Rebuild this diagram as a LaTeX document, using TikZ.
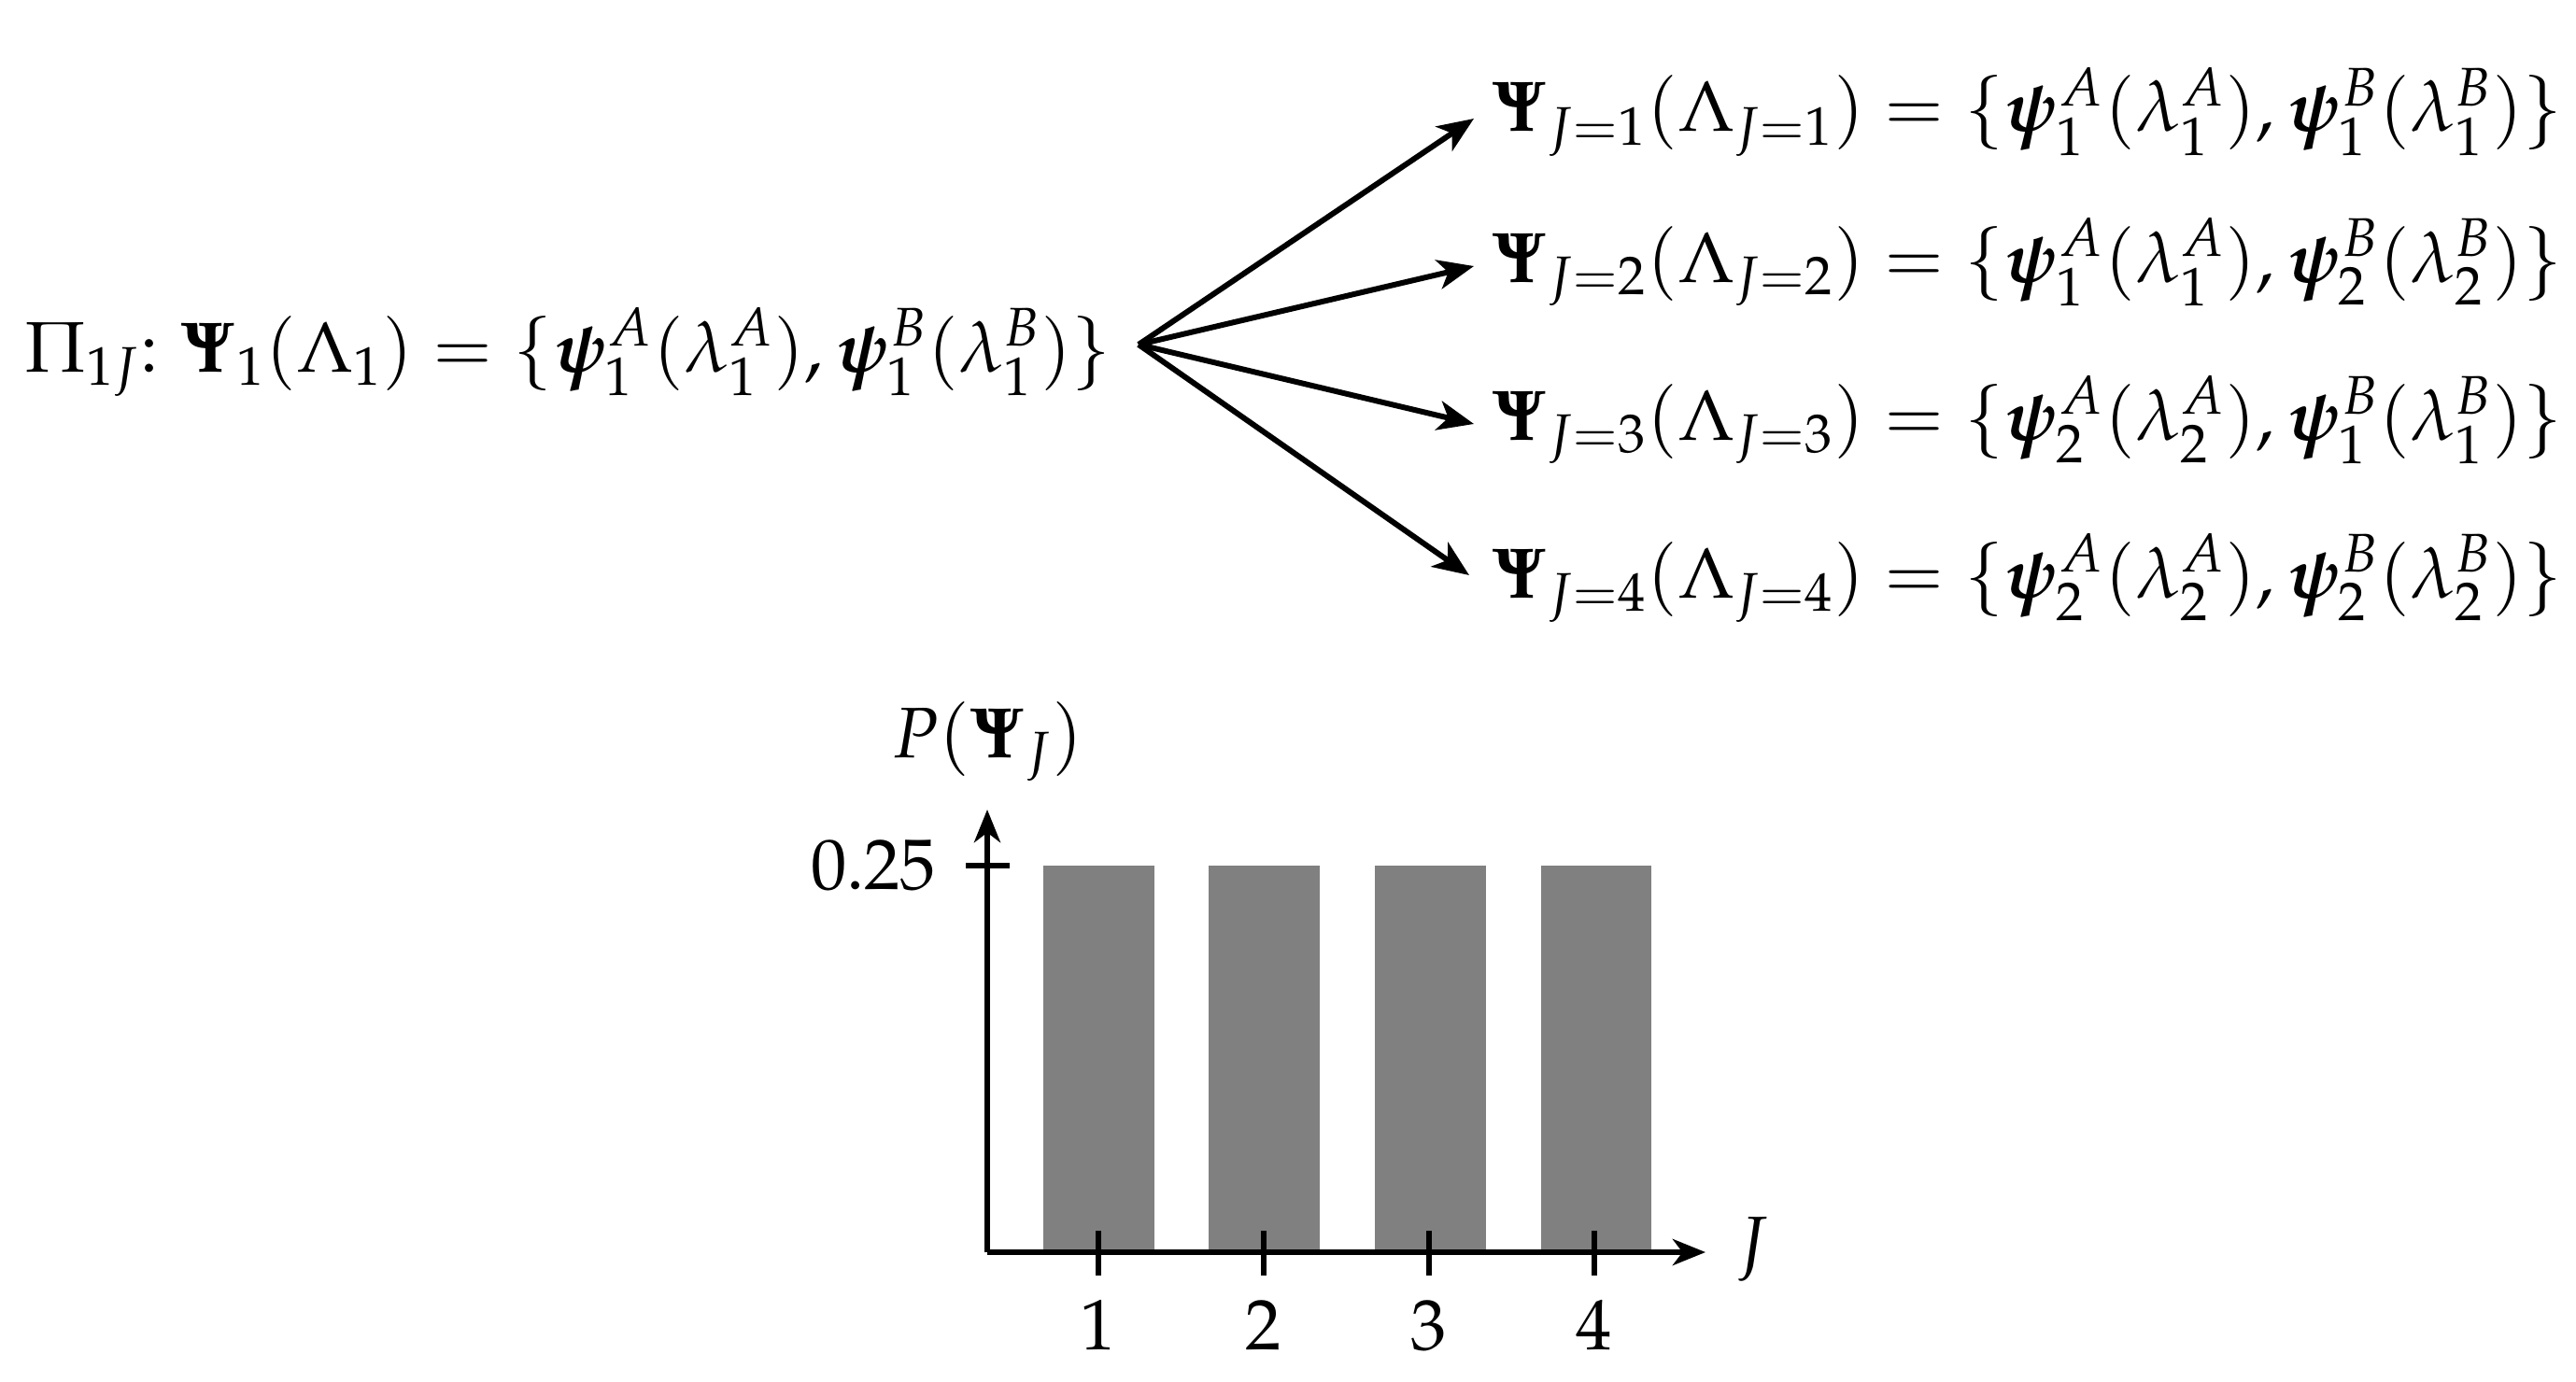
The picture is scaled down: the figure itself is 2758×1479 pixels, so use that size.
\documentclass[tikz,border=0pt]{standalone}
\usepackage{amsmath}
\usepackage{mathpazo}
\usepackage{bm}
\usetikzlibrary{arrows.meta}
\tikzset{
  txt/.style={inner sep=0pt, font=\fontsize{21.8}{26}\selectfont},
  arr/.style={line width=1.7pt, -{Stealth[length=11pt,width=9pt,inset=3pt]}},
  axis/.style={line width=1.6pt, -{Stealth[length=10pt,width=8pt,inset=3pt]}},
  tick/.style={line width=1.6pt},
  bar/.style={fill=black!50, draw=none}
}
\begin{document}
\begin{tikzpicture}[x=0.01cm,y=-0.01cm]
\useasboundingbox (0,0) rectangle (2758,1479);
% left
\node[txt, anchor=base west] (src) at (26,398)
  {$\Pi_{1J}{:}\ \bm{\Psi}_1(\Lambda_1) = \{\bm{\psi}_1^A(\lambda_1^A), \bm{\psi}_1^B(\lambda_1^B)\}$};
\coordinate (o) at (1219,369);
% right rows
\node[txt, anchor=base west] (r1) at (1597,141)
  {$\bm{\Psi}_{J=1}(\Lambda_{J=1}) = \{\bm{\psi}_1^A(\lambda_1^A), \bm{\psi}_1^B(\lambda_1^B)\}$};
\node[txt, anchor=base west] (r2) at (1597,302)
  {$\bm{\Psi}_{J=2}(\Lambda_{J=2}) = \{\bm{\psi}_1^A(\lambda_1^A), \bm{\psi}_2^B(\lambda_2^B)\}$};
\node[txt, anchor=base west] (r3) at (1597,471)
  {$\bm{\Psi}_{J=3}(\Lambda_{J=3}) = \{\bm{\psi}_2^A(\lambda_2^A), \bm{\psi}_1^B(\lambda_1^B)\}$};
\node[txt, anchor=base west] (r4) at (1597,640)
  {$\bm{\Psi}_{J=4}(\Lambda_{J=4}) = \{\bm{\psi}_2^A(\lambda_2^A), \bm{\psi}_2^B(\lambda_2^B)\}$};
\coordinate (t1) at (1578,127);
\coordinate (t2) at (1578,285);
\coordinate (t3) at (1578,454);
\coordinate (t4) at (1573,616);
\draw[arr] (o) -- (t1);
\draw[arr] (o) -- (t2);
\draw[arr] (o) -- (t3);
\draw[arr] (o) -- (t4);
% chart
\fill[bar] (1117,927) rectangle (1236,1341);
\fill[bar] (1294,927) rectangle (1413,1341);
\fill[bar] (1472,927) rectangle (1591,1341);
\fill[bar] (1650,927) rectangle (1768,1341);
\coordinate (org) at (1057,1341);
\coordinate (ytop) at (1057,867);
\coordinate (xend) at (1826,1341);
\draw[axis] (org) -- (ytop);
\draw[axis] (org) -- (xend);
\draw[tick] (1034,927) -- (1081,927);
\foreach \i/\x in {1/1176,2/1353,3/1530,4/1707}{
  \draw[tick] (\x,1318) -- (\x,1366);
  \node[txt, anchor=base] (n\i) at (\x,1445) {$\i$};
}
\node[txt, anchor=base east] (v) at (1003,952) {$0.25$};
\node[txt, anchor=west] (jl) at (1858,1338) {$J$};
\node[txt, anchor=base] (pl) at (1057,811) {$P(\bm{\Psi}_J)$};
\end{tikzpicture}
\end{document}
